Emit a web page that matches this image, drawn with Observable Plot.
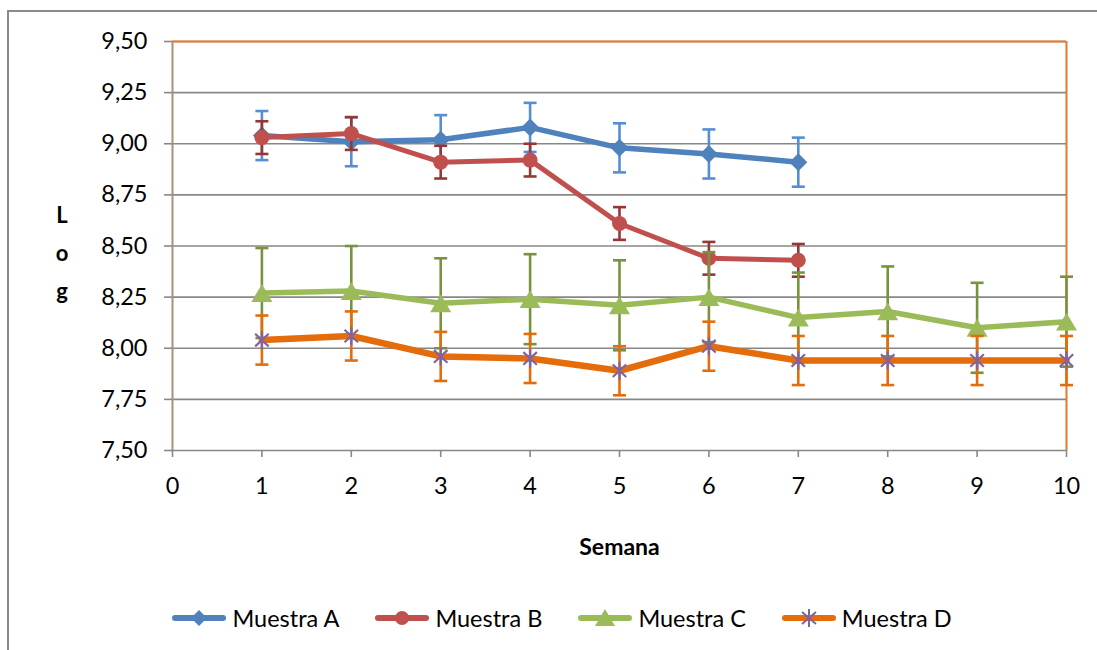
<!DOCTYPE html>
<html><head><meta charset="utf-8">
<script src="https://cdn.jsdelivr.net/npm/d3@7"></script>
<script src="https://cdn.jsdelivr.net/npm/@observablehq/plot@0.6"></script>
<style>
body{margin:0;background:#fff;font-family:Lato,sans-serif;}
#wrap{position:relative;width:1097px;height:650px;overflow:hidden;background:#fff;}
#frame{position:absolute;left:7px;top:10px;width:1200px;height:700px;border:2px solid #8a8a8a;box-sizing:border-box;}
#chart{position:absolute;left:0;top:0;}
#ylab{position:absolute;left:51px;top:196px;width:22px;text-align:center;font-weight:bold;font-size:22px;line-height:38px;color:#000;}
#legend{position:absolute;left:0;top:600px;width:1124px;display:flex;justify-content:center;gap:36px;font-size:23.5px;line-height:36px;color:#000;}
.item{display:flex;align-items:center;gap:6px;}
</style></head><body>
<div id="wrap"><div id="frame"></div><div id="chart"></div><div id="ylab">L<br>o<br>g</div><div id="legend"></div></div>
<script>
// ---- data ----
const weeks = [1, 2, 3, 4, 5, 6, 7, 8, 9, 10];
const seriesNames = ["Muestra A", "Muestra B", "Muestra C", "Muestra D"];
const valuesA = [9.04, 9.01, 9.02, 9.08, 8.98, 8.95, 8.91];
const valuesB = [9.03, 9.05, 8.91, 8.92, 8.61, 8.44, 8.43];
const valuesC = [8.27, 8.28, 8.22, 8.24, 8.21, 8.25, 8.15, 8.18, 8.10, 8.13];
const valuesD = [8.04, 8.06, 7.96, 7.95, 7.89, 8.01, 7.94, 7.94, 7.94, 7.94];
const errA = [0.12, 0.12, 0.12, 0.12, 0.12, 0.12, 0.12];
const errB = [0.08, 0.08, 0.08, 0.08, 0.08, 0.08, 0.08];
const errC = [0.22, 0.22, 0.22, 0.22, 0.22, 0.22, 0.22, 0.22, 0.22, 0.22];
const errD = [0.12, 0.12, 0.12, 0.12, 0.12, 0.12, 0.12, 0.12, 0.12, 0.12];
const yTicks = [7.5, 7.75, 8.0, 8.25, 8.5, 8.75, 9.0, 9.25, 9.5];
const xTicks = [0, 1, 2, 3, 4, 5, 6, 7, 8, 9, 10];
const xLabel = "Semana";

// ---- symbols ----
const rad = s => Math.sqrt(s / Math.PI);
const symDiamond = {draw(c, s){const r = rad(s); c.moveTo(0,-r); c.lineTo(r,0); c.lineTo(0,r); c.lineTo(-r,0); c.closePath();}};
const symCircle = {draw(c, s){const r = rad(s); c.moveTo(r,0); c.arc(0,0,r,0,2*Math.PI);}};
const symTriangle = {draw(c, s){const r = rad(s); c.moveTo(0,-0.85*r); c.lineTo(r,0.85*r); c.lineTo(-r,0.85*r); c.closePath();}};
const symStar = {draw(c, s){const r = rad(s); c.moveTo(0,-r); c.lineTo(0,r); c.moveTo(-0.75*r,-0.7*r); c.lineTo(0.75*r,0.7*r); c.moveTo(-0.75*r,0.7*r); c.lineTo(0.75*r,-0.7*r);}};
const symCap = {draw(c, s){const r = rad(s); c.moveTo(-r,0); c.lineTo(r,0);}};

const styles = [
  {vals: valuesA, err: errA, line: "#4f81bd", bar: "#558ed5", mark: "#4f81bd", sym: symDiamond, r: 9, filled: true, lw: 5.5},
  {vals: valuesB, err: errB, line: "#c0504d", bar: "#953735", mark: "#c0504d", sym: symCircle, r: 7.5, filled: true, lw: 5},
  {vals: valuesC, err: errC, line: "#9bbb59", bar: "#77933c", mark: "#9bbb59", sym: symTriangle, r: 10.5, filled: true, lw: 5.5},
  {vals: valuesD, err: errD, line: "#e46c0a", bar: "#e46c0a", mark: "#8064a2", sym: symStar, r: 9, filled: false, lw: 6.5}
];

const fmt = d => d3.format(".2f")(d).replace(".", ",");

const marks = [
  Plot.gridY(yTicks, {stroke: "#878787", strokeOpacity: 1, strokeWidth: 1.6}),
  Plot.ruleX([0], {stroke: "#a8917b", strokeWidth: 2}),
  Plot.ruleY([9.5], {stroke: "#e6792b", strokeWidth: 2}),
  Plot.ruleX([10], {stroke: "#e6792b", strokeWidth: 2}),
  Plot.axisY({ticks: yTicks, tickFormat: fmt, tickSize: 8, tickPadding: 17, stroke: "#878787", strokeWidth: 1.6, fill: "#000", label: null}),
  Plot.axisX({ticks: xTicks, tickFormat: d => String(d), tickSize: 7, tickPadding: 20, stroke: "#878787", strokeWidth: 1.6, fill: "#000", label: null}),
  Plot.text([xLabel], {frameAnchor: "bottom", dy: 97, fontWeight: "bold", fontSize: 23, fill: "#000", lineAnchor: "middle"})
];

styles.forEach((st, i) => {
  const rows = st.vals.map((v, k) => ({week: weeks[k], v, lo: v - st.err[k], hi: v + st.err[k], name: seriesNames[i]}));
  marks.push(
    Plot.ruleX(rows, {x: "week", y1: "lo", y2: "hi", stroke: st.bar, strokeWidth: 2.6}),
    Plot.dot(rows, {x: "week", y: "hi", symbol: symCap, r: 6.5, stroke: st.bar, strokeWidth: 2.6}),
    Plot.dot(rows, {x: "week", y: "lo", symbol: symCap, r: 6.5, stroke: st.bar, strokeWidth: 2.6}),
    Plot.line(rows, {x: "week", y: "v", stroke: st.line, strokeWidth: st.lw, strokeLinejoin: "round"}),
    st.filled
      ? Plot.dot(rows, {x: "week", y: "v", symbol: st.sym, r: st.r, fill: st.mark, stroke: "none"})
      : Plot.dot(rows, {x: "week", y: "v", symbol: st.sym, r: st.r, stroke: st.mark, strokeWidth: 2.2, fill: "none"})
  );
});

const chart = Plot.plot({
  width: 1097,
  height: 580,
  marginLeft: 172,
  marginRight: 31,
  marginTop: 41,
  marginBottom: 130,
  x: {domain: [0, 10]},
  y: {domain: [7.5, 9.5]},
  style: {fontFamily: "Lato, sans-serif", fontSize: "23.5px", color: "#000", background: "transparent", overflow: "visible"},
  marks
});
document.getElementById("chart").appendChild(chart);

// ---- legend ----
const legendShapes = [
  c => `<path d="M27,3 L35,11 L27,19 L19,11 Z" fill="${c.mark}"/>`,
  c => `<circle cx="27" cy="11" r="7" fill="${c.mark}"/>`,
  c => `<path d="M27,2 L37,19 L17,19 Z" fill="${c.mark}"/>`,
  c => `<path d="M27,2 L27,20 M20,5 L34,17 M20,17 L34,5" stroke="${c.mark}" stroke-width="2" fill="none"/>`
];
const lg = document.getElementById("legend");
styles.forEach((st, i) => {
  const item = document.createElement("div");
  item.className = "item";
  item.innerHTML = `<svg width="54" height="22"><line x1="3" y1="11" x2="51" y2="11" stroke="${st.line}" stroke-width="6" stroke-linecap="round"/>${legendShapes[i](st)}</svg><span>${seriesNames[i]}</span>`;
  lg.appendChild(item);
});
</script>
</body></html>
